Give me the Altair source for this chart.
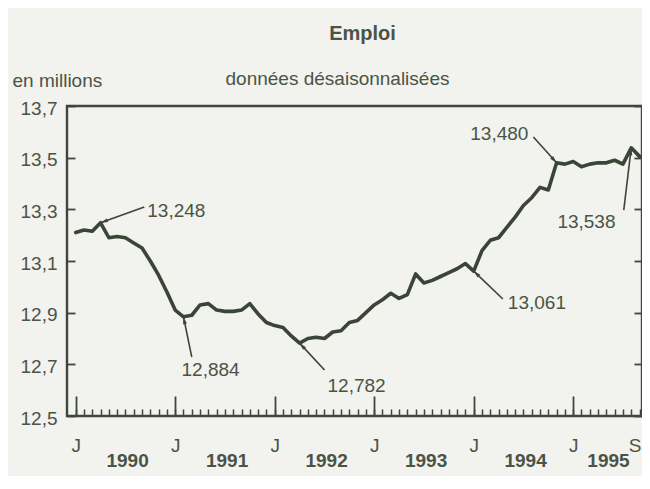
import math
import altair as alt
import pandas as pd

# ---- data (monthly, Jan 1990 .. Sep 1995), millions ----
start_year = 1990
values = [13.21, 13.22, 13.215, 13.248, 13.19, 13.195, 13.19, 13.17, 13.15, 13.10, 13.045, 12.98,
          12.91, 12.884, 12.89, 12.93, 12.935, 12.91, 12.905, 12.905, 12.91, 12.935, 12.895, 12.862,
          12.85, 12.843, 12.81, 12.782, 12.80, 12.805, 12.80, 12.825, 12.83, 12.862, 12.87, 12.90,
          12.93, 12.95, 12.975, 12.955, 12.97, 13.05, 13.015, 13.025, 13.04, 13.055, 13.07, 13.09,
          13.061, 13.14, 13.18, 13.19, 13.23, 13.27, 13.315, 13.345, 13.385, 13.375, 13.48, 13.475,
          13.485, 13.465, 13.475, 13.48, 13.48, 13.49, 13.475, 13.538, 13.505]
months = list(range(len(values)))

# axis ticks / labels
y_ticks = [12.5, 12.7, 12.9, 13.1, 13.3, 13.5, 13.7]
major_months = [0, 12, 24, 36, 48, 60]
month_labels_at = [0, 12, 24, 36, 48, 60, 68]
year_label_at = [6.2, 18.2, 30.2, 42.2, 54.2, 64.2]

# annotations
ann_text = ["13,248", "12,884", "12,782", "13,061", "13,480", "13,538"]
ann_month = [3, 13, 27, 48, 58, 67]
ann_label_m = [8.63, 16.27, 30.37, 52.12, 54.6, 61.6]
ann_label_v = [13.294, 12.678, 12.616, 12.937, 13.592, 13.251]
ann_align = ["left", "center", "left", "left", "right", "center"]
ann_tail_m = [8.27, 14.0, 30.01, 51.52, 55.2, 66.1]
ann_tail_v = [13.309, 12.728, 12.678, 12.953, 13.58, 13.297]

# ---- layout / style ----
W, H = 575, 310
XDOM = [-1.05, 68.3]
YDOM = [12.5, 13.7]
FONT = "Liberation Sans"
TXT = "#4a5446"
LINE = "#3b4537"
FRAME = "#3f473c"
BG = "#f2f2ee"
FS = 19

df = pd.DataFrame({"m": months, "v": values})

pxm = W / (XDOM[1] - XDOM[0])
pxv = H / (YDOM[1] - YDOM[0])
ang = []
for i, mm in enumerate(ann_month):
    dx = (mm - ann_tail_m[i]) * pxm
    dy = -(values[mm] - ann_tail_v[i]) * pxv
    ang.append(math.degrees(math.atan2(dx, -dy)) % 360)
ann = pd.DataFrame({
    "text": ann_text,
    "m": ann_month,
    "v": [values[mm] for mm in ann_month],
    "lm": ann_label_m,
    "lv": ann_label_v,
    "align": ann_align,
    "tm": ann_tail_m,
    "tv": ann_tail_v,
    "angle": ang,
})

xs = alt.Scale(domain=XDOM, nice=False, zero=False)
ys = alt.Scale(domain=YDOM, nice=False, zero=False)

base = alt.Chart(df)

x_main = alt.Axis(orient="bottom", values=month_labels_at,
                  labelExpr="datum.value == 68 ? 'S' : 'J'",
                  labelOffset={"condition": {"test": "datum.value == 68", "value": -5}, "value": 0},
                  ticks=False, domain=False, grid=False, title=None,
                  labelFont=FONT, labelFontSize=FS, labelColor=TXT, labelPadding=20)
y_main = alt.Axis(orient="left", values=y_ticks,
                  labelExpr="replace(format(datum.value, '.1f'), '.', ',')",
                  ticks=False, domain=False, grid=False,
                  labelFont=FONT, labelFontSize=FS, labelColor=TXT, labelPadding=10, labelOffset=2,
                  title="en millions", titleAngle=0, titleX=-55, titleY=-26,
                  titleAlign="left", titleBaseline="middle",
                  titleFont=FONT, titleFontSize=FS, titleFontWeight="normal", titleColor=TXT)

line = base.mark_line(color=LINE, strokeWidth=3.6, strokeJoin="round", strokeCap="round",
                      clip=True).encode(
    x=alt.X("m:Q", scale=xs, axis=x_main),
    y=alt.Y("v:Q", scale=ys, axis=y_main),
)

x_years = alt.Axis(orient="bottom", values=year_label_at,
                   labelExpr="'' + (%d + floor(datum.value / 12))" % start_year,
                   ticks=False, domain=False, grid=False, title=None,
                   labelFont=FONT, labelFontSize=FS, labelFontWeight="bold", labelColor=TXT,
                   labelPadding=35)
y_in_left = alt.Axis(orient="right", offset=-W, values=y_ticks, labels=False, domain=False,
                     grid=False, tickSize=8, tickWidth=1.8, tickColor=FRAME,
                     title="données désaisonnalisées", titleAngle=0, titleX=270, titleY=-28,
                     titleAlign="center", titleBaseline="middle",
                     titleFont=FONT, titleFontSize=FS, titleFontWeight="normal", titleColor=TXT)
ghost1 = base.mark_line(opacity=0).encode(
    x=alt.X("m:Q", scale=xs, axis=x_years),
    y=alt.Y("v:Q", scale=ys, axis=y_in_left),
)

x_minor = alt.Axis(orient="top", offset=-H, values=months, labels=False, domain=False, grid=False,
                   tickSize=7, tickWidth=1.5, tickColor=FRAME, title=None)
y_in_right = alt.Axis(orient="left", offset=-W, values=y_ticks, labels=False, domain=False,
                      grid=False, tickSize=8, tickWidth=1.8, tickColor=FRAME, title=None)
ghost2 = base.mark_line(opacity=0).encode(
    x=alt.X("m:Q", scale=xs, axis=x_minor),
    y=alt.Y("v:Q", scale=ys, axis=y_in_right),
)

x_major = alt.Axis(orient="top", offset=-H, values=major_months, labels=False, domain=False,
                   grid=False, tickSize=20, tickWidth=1.8, tickColor=FRAME, title=None)
ghost3 = base.mark_line(opacity=0).encode(
    x=alt.X("m:Q", scale=xs, axis=x_major),
    y=alt.Y("v:Q", scale=ys, axis=None),
)

abase = alt.Chart(ann)
arrows = abase.mark_rule(color=LINE, strokeWidth=1.6).encode(
    x=alt.X("tm:Q", scale=xs, axis=None), y=alt.Y("tv:Q", scale=ys, axis=None),
    x2="m:Q", y2="v:Q",
)
heads = abase.mark_point(shape="M0,0L0.5,1.9L-0.5,1.9Z", filled=True, color=LINE, size=60,
                         opacity=1).encode(
    x=alt.X("m:Q", scale=xs, axis=None), y=alt.Y("v:Q", scale=ys, axis=None),
    angle=alt.Angle("angle:Q", scale=None),
)
labels = []
for al in ["left", "center", "right"]:
    labels.append(
        abase.transform_filter(alt.datum.align == al).mark_text(
            align=al, baseline="middle", font=FONT, fontSize=FS, color=TXT).encode(
            x=alt.X("lm:Q", scale=xs, axis=None), y=alt.Y("lv:Q", scale=ys, axis=None),
            text="text:N")
    )

chart = alt.layer(line, ghost1, ghost2, ghost3, arrows, heads, *labels).resolve_axis(
    x="independent", y="independent"
).properties(
    width=W, height=H,
    title=alt.TitleParams("Emploi", font=FONT, fontSize=20, fontWeight="bold", color=TXT,
                          anchor="middle", offset=25, dx=8),
    autosize=alt.AutoSizeParams(type="none"),
    padding={"left": 59, "top": 98, "right": 0, "bottom": 60},
    background=BG,
).configure_view(stroke=FRAME, strokeWidth=2.4)

chart.save("out.html", embed_options={"renderer": "svg", "actions": False})
